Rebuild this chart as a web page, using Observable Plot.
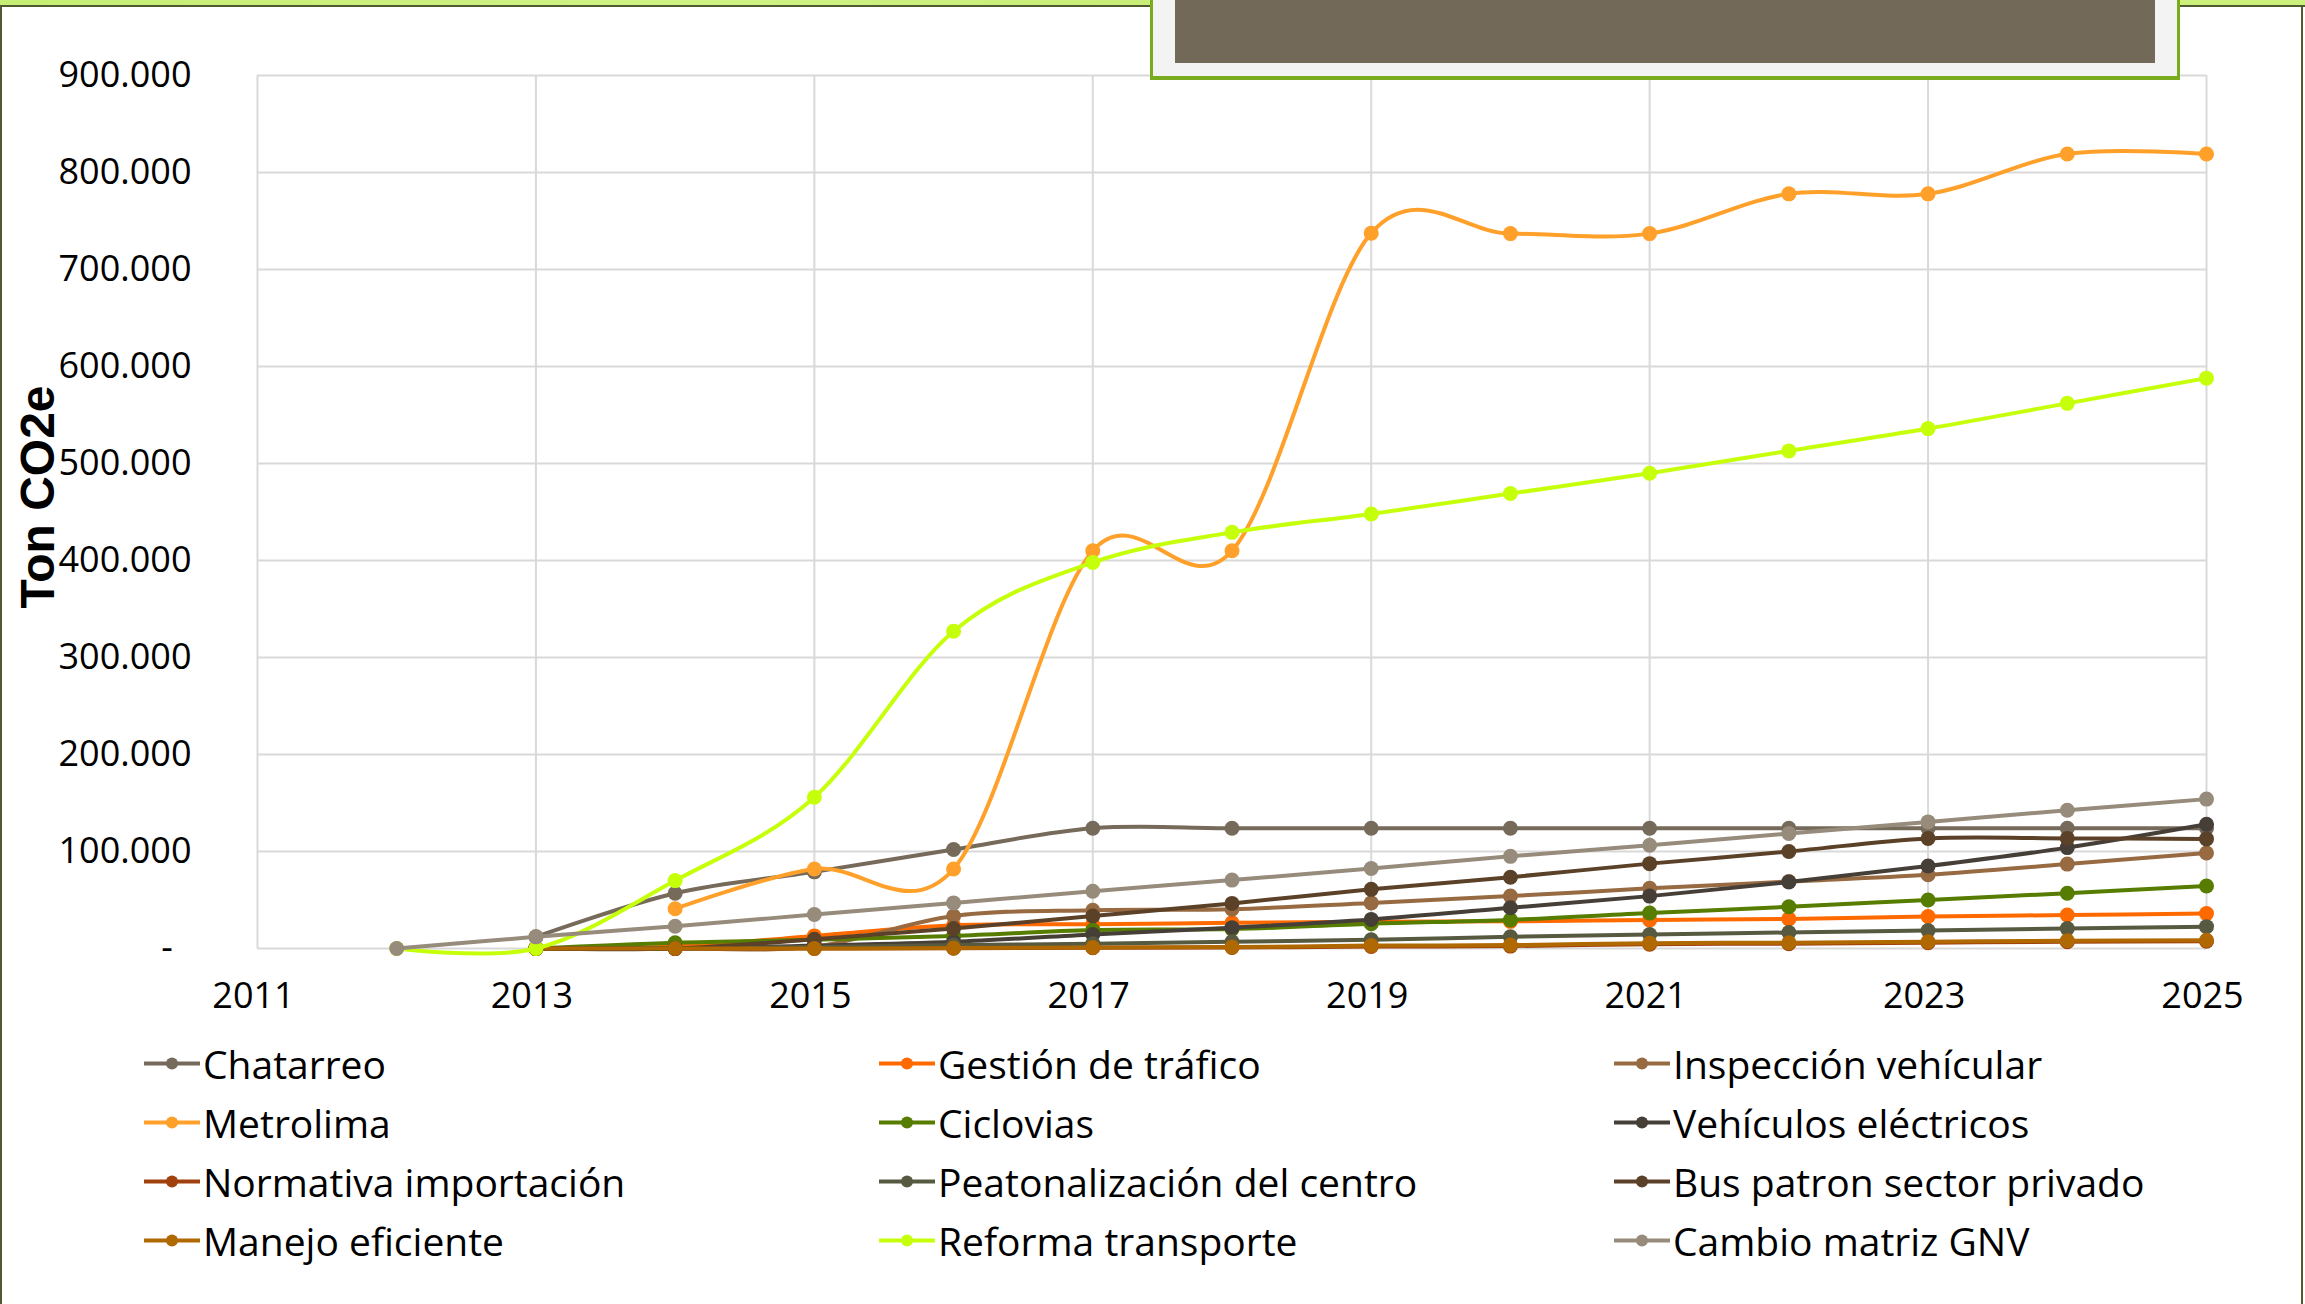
<!DOCTYPE html>
<html>
<head>
<meta charset="utf-8">
<script src="https://cdn.jsdelivr.net/npm/d3@7"></script>
<script src="https://cdn.jsdelivr.net/npm/@observablehq/plot@0.6"></script>
<style>
  html, body { margin: 0; padding: 0; background: #fff; }
  #page { position: relative; width: 2305px; height: 1304px; overflow: hidden; background: #fff; font-family: "Open Sans", sans-serif; }
  #topbar { position: absolute; left: 0; top: 0; width: 2305px; height: 5px; background: linear-gradient(90deg, #c6ee74, #d0f285 30%, #c4ec70 60%, #ccf07c); }
  #topline { position: absolute; left: 0; top: 5px; width: 2305px; height: 2px; background: #4f5b2f; }
  #leftline { position: absolute; left: 0; top: 5px; width: 2px; height: 1299px; background: #4f5b2f; }
  #rightline { position: absolute; left: 2301px; top: 5px; width: 2px; height: 1299px; background: #4f5b2f; }
  #box { position: absolute; left: 1150px; top: 0; width: 1024px; height: 76px; background: #f3f3f3; border-left: 3px solid #7aaa1e; border-right: 3px solid #7aaa1e; border-bottom: 4px solid #7aaa1e; z-index: 5; }
  #boxinner { position: absolute; left: 1175px; top: 0; width: 980px; height: 63px; background: #736958; z-index: 6; }
  #chart { position: absolute; left: 0; top: 0; }
  #ytitle { position: absolute; left: 37px; top: 497px; transform: translate(-50%, -50%) rotate(-90deg); font-family: "Liberation Sans", Arial, sans-serif; font-weight: bold; font-size: 48px; color: #000; white-space: nowrap; }
  .legitem { position: absolute; display: flex; align-items: center; font-size: 39px; color: #000; white-space: nowrap; transform: translateY(-50%); }
  .legitem svg { display: block; margin-right: 3px; }
</style>
</head>
<body>
<div id="page">
  <div id="chart"></div>
  <div id="topbar"></div>
  <div id="topline"></div>
  <div id="leftline"></div>
  <div id="rightline"></div>
  <div id="box"></div>
  <div id="boxinner"></div>
  <div id="ytitle">Ton CO2e</div>
  <div id="legend"></div>
</div>
<script>
// ---- Data ----
const years = [2012, 2013, 2014, 2015, 2016, 2017, 2018, 2019, 2020, 2021, 2022, 2023, 2024, 2025];

const seriesNames = [
  "Chatarreo", "Gestión de tráfico", "Inspección vehícular",
  "Metrolima", "Ciclovias", "Vehículos eléctricos",
  "Normativa importación", "Peatonalización del centro", "Bus patron sector privado",
  "Manejo eficiente", "Reforma transporte", "Cambio matriz GNV"
];

const seriesColors = [
  "#766a5b", "#ff6a00", "#976a42",
  "#ffa02a", "#567c00", "#463f38",
  "#a0400c", "#575a40", "#5c4129",
  "#b06800", "#c6ff0a", "#978b7b"
];

const chatarreo     = [null, 12000, 57000, 79000, 102000, 124000, 124000, 124000, 124000, 124000, 124000, 124000, 124000, 124000];
const gestion       = [null, 0, 2000, 13000, 24000, 25000, 26500, 27500, 28000, 29500, 30500, 33000, 34500, 36000];
const inspeccion    = [null, 0, 0, 2000, 33500, 39500, 40500, 47000, 54000, 62000, 69000, 76000, 87000, 98500];
const metrolima     = [null, null, 41000, 82000, 82000, 410000, 410000, 737500, 737000, 737000, 778000, 778000, 819000, 819000];
const ciclovias     = [null, 0, 6000, 9000, 13000, 19000, 20000, 25500, 29500, 36500, 43000, 50000, 57000, 64500];
const vehiculos     = [null, 0, 0, 3000, 7000, 14500, 21500, 30000, 42000, 54000, 68500, 85000, 104000, 128000];
const normativa     = [null, 0, 0, 0, 300, 700, 1000, 2000, 2500, 4500, 5000, 6000, 7000, 7500];
const peatonal      = [null, 0, 0, 1500, 3500, 5000, 7000, 9000, 12000, 14500, 16500, 18500, 20500, 22500];
const busPatron     = [null, 0, 0, 9500, 20500, 33500, 46500, 61000, 73500, 87500, 100000, 113500, 113500, 113000];
const manejo        = [null, 0, 0, 0, 500, 1000, 1500, 3000, 3500, 5500, 6000, 7000, 8000, 8500];
const reforma       = [0, 0, 70000, 156000, 327000, 398000, 429000, 448000, 469000, 490000, 513000, 536000, 562000, 588000];
const gnv           = [0, 12000, 23000, 35000, 47000, 59000, 70500, 82500, 95000, 106500, 118500, 130500, 142500, 154000];

const seriesValues = [chatarreo, gestion, inspeccion, metrolima, ciclovias, vehiculos,
                      normativa, peatonal, busPatron, manejo, reforma, gnv];

const xTicks = [2011, 2013, 2015, 2017, 2019, 2021, 2023, 2025];
const yTicks = [0, 100000, 200000, 300000, 400000, 500000, 600000, 700000, 800000, 900000];
const yTickLabels = ["-", "100.000", "200.000", "300.000", "400.000", "500.000", "600.000", "700.000", "800.000", "900.000"];

// ---- Build table ----
const rows = seriesNames.flatMap((name, i) =>
  years.map((yr, j) => ({series: name, year: yr, value: seriesValues[i][j]}))
       .filter(d => d.value != null)
);

const curve = d3.curveCatmullRom.alpha(0);

const seriesMarks = seriesNames.flatMap((name, i) => {
  const r = rows.filter(d => d.series === name);
  return [
    Plot.line(r, {x: "year", y: "value", stroke: seriesColors[i], strokeWidth: 4, curve}),
    Plot.dot(r, {x: "year", y: "value", fill: seriesColors[i], r: 7.5})
  ];
});

const W = 2305, H = 1030;
const chart = Plot.plot({
  width: W,
  height: H,
  marginLeft: 257,
  marginRight: 99,
  marginTop: 75,
  marginBottom: H - 948,
  style: {fontFamily: "'Open Sans', sans-serif", fontSize: "36px", color: "#000", background: "transparent"},
  x: {domain: [2011, 2025]},
  y: {domain: [0, 900000]},
  marks: [
    Plot.ruleY(yTicks, {y: d => d, stroke: "#d9d9d9", strokeWidth: 2}),
    Plot.ruleX(xTicks, {x: d => d, stroke: "#d9d9d9", strokeWidth: 2}),
    Plot.axisX({ticks: xTicks, tickFormat: d => String(d), tickSize: 0, tickPadding: 34, dx: -4, label: null, fontSize: 36, fill: "#000"}),
    Plot.axisY({ticks: yTicks, tickFormat: d => {
      const s = yTickLabels[yTicks.indexOf(d)];
      return s === "-" ? s + "\u00a0\u00a0" : s;
    }, tickSize: 0, tickPadding: 66, label: null, fontSize: 36, fill: "#000"}),
    ...seriesMarks
  ]
});
document.getElementById("chart").appendChild(chart);

// ---- Legend (HTML, from the same arrays) ----
const legend = document.getElementById("legend");
const colX = [144, 879, 1614];
const rowY = [1063, 1122, 1181, 1240];
seriesNames.forEach((name, i) => {
  const col = i % 3, row = Math.floor(i / 3);
  const item = document.createElement("div");
  item.className = "legitem";
  item.style.left = colX[col] + "px";
  item.style.top = rowY[row] + "px";
  const c = seriesColors[i];
  item.innerHTML = `<svg width="56" height="20"><line x1="0" y1="10" x2="56" y2="10" stroke="${c}" stroke-width="4"/><circle cx="28" cy="10" r="6" fill="${c}"/></svg><span>${name}</span>`;
  legend.appendChild(item);
});
</script>
</body>
</html>
